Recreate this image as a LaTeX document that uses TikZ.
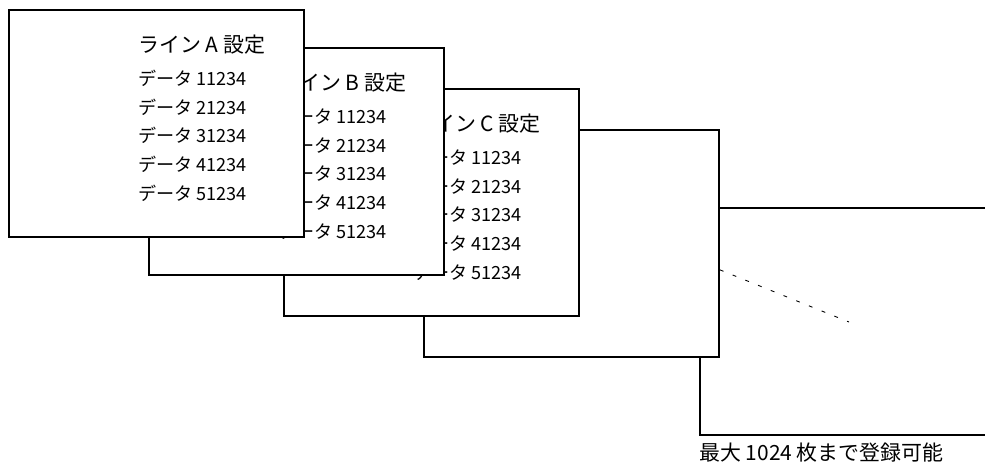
\documentclass[tikz,border=0pt]{standalone}
\usepackage{fontspec}
\setmainfont{Noto Sans CJK JP}
\usepackage{tikz}
\usetikzlibrary{positioning,calc}

\tikzset{
  card/.style={draw,fill=white,line width=1.1pt,anchor=north west,
    minimum width=59mm,minimum height=45.5mm,inner sep=0pt},
  cardtitle/.style={anchor=west,inner sep=0pt,font=\fontsize{11.9}{14}\selectfont},
  cardrow/.style={anchor=west,inner sep=0pt,font=\fontsize{10.3}{12}\selectfont},
  moreline/.style={line width=0.5pt,dash pattern=on 2.2pt off 5.6pt}
}

\begin{document}
\begin{tikzpicture}[x=0.2mm,y=-0.2mm]
  \clip (0,0) rectangle (985,463);

  % last sheet and the blank one before it
  \node[card] (cardE) at (699,207) {};
  \node[card] (cardD) at (423,129) {};

  % sheets with settings, A on top
  \foreach \n/\x/\y in {C/283/88,B/148/47,A/8/9} {
    \node[card] (card\n) at (\x,\y) {};
    \node[cardtitle] (title\n) at ($(card\n.north west)+(130,36)$) {ライン \n\ 設定};
    \foreach \i in {1,...,5}
      \node[cardrow] (row\n\i) at ($(card\n.north west)+(130,40.5+28.7*\i)$) {データ \i1234};
  }

  \coordinate (moreend) at (849,322);
  \draw[moreline] ($(cardD.north east)!0.614!(cardD.south east)$) -- (moreend);

  \node[anchor=west,inner sep=0pt,font=\fontsize{11.9}{14}\selectfont] (limitlabel)
    at ($(cardE.south west)+(0,16)$) {最大 1024 枚まで登録可能};
\end{tikzpicture}
\end{document}
